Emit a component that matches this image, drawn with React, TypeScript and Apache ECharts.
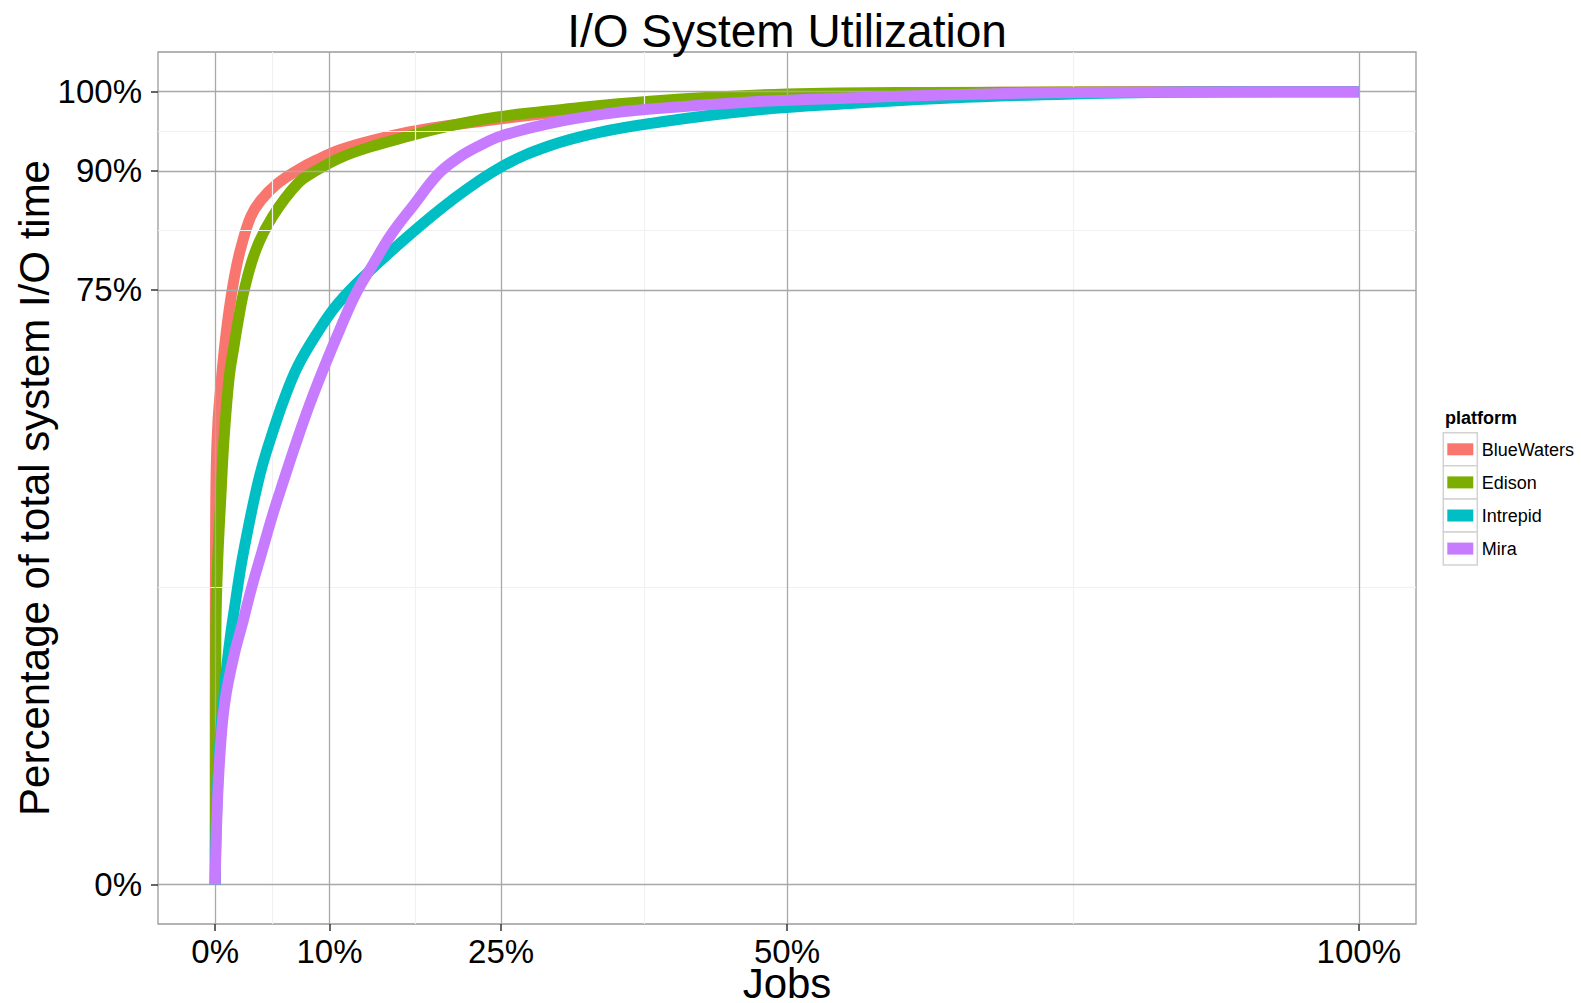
import { useEffect, useRef } from 'react';
import * as echarts from 'echarts';

const platforms = ['BlueWaters', 'Edison', 'Intrepid', 'Mira'];
const colors = ['#F8766D', '#7CAE00', '#00BFC4', '#C77CFF'];
const xTicks = [0, 10, 25, 50, 100];
const yTicks = [0, 75, 90, 100];
const xMinor = [5, 17.5, 37.5, 75];
const yMinor = [37.5, 82.5, 95];

// [jobs %, cumulative I/O time %]
const blueWaters = [
  [0, 0], [0.01, 30], [0.04, 45], [0.1, 53], [0.25, 58.5], [0.5, 63], [0.75, 66.8],
  [1.05, 70.6], [1.4, 74.2], [1.8, 77.5], [2.25, 80.3], [3.1, 84.2], [4.0, 86.3],
  [5.45, 88.4], [7.2, 90.1], [8.9, 91.4], [11, 92.7], [13.6, 93.8], [17.7, 95.1],
  [23.5, 96.3], [30, 97.4], [40, 98.6], [50, 99.4], [62, 99.8], [75, 99.95], [100, 100],
];
const edison = [
  [0, 0], [0.03, 10], [0.05, 25], [0.06, 31.7], [0.2, 40.1], [0.5, 49], [0.79, 56.5],
  [1.23, 64], [1.66, 68], [2.0, 71], [2.54, 75], [3.55, 80], [5.0, 84.2], [7.2, 88.4],
  [8.9, 90.1], [11, 91.7], [13.5, 93.0], [16.2, 94.1], [20.6, 95.7], [24.7, 96.8],
  [30, 97.7], [38, 98.8], [50, 99.7], [62, 99.9], [100, 100],
];
const intrepid = [
  [0, 0], [0.1, 8], [0.3, 15], [0.5, 19.5], [0.73, 23.3], [1.0, 27.3], [1.37, 31.7],
  [1.8, 35.9], [2.25, 40.1], [2.8, 44.3], [3.4, 48.5], [4.1, 52.7], [5.0, 56.9],
  [6.0, 61.1], [7.2, 65.3], [8.9, 69.5], [10.7, 73.2], [13.3, 77.1], [16.5, 81.3],
  [20.6, 86.2], [25, 90.5], [29.3, 93.2], [33.7, 94.9], [38.1, 96.0], [46.8, 97.6],
  [55.5, 98.5], [64.3, 99.2], [75, 99.7], [85, 99.95], [100, 100],
];
const mira = [
  [0, 0], [0.06, 4.3], [0.15, 8.5], [0.27, 12.7], [0.44, 16.9], [0.64, 20.5], [0.85, 23],
  [1.1, 25.2], [1.7, 29.2], [2.4, 33], [3.2, 37.5], [4.1, 42], [5.0, 46.5], [6.0, 51],
  [7.1, 55.8], [8.3, 60.7], [9.6, 65.5], [10.9, 70], [12.3, 74.5], [13.8, 78.2],
  [15.4, 82], [17.3, 85.6], [19.5, 89.6], [21.2, 91.6], [23, 93.1], [25, 94.4],
  [29.3, 96.0], [33.7, 97.1], [38.1, 97.8], [46.8, 98.7], [55.5, 99.2], [64.3, 99.6],
  [75, 99.9], [100, 100],
];
const seriesData = [blueWaters, edison, intrepid, mira];

const FONT = "'Liberation Sans', Arial, Helvetica, sans-serif";

export default function App() {
  const ref = useRef<HTMLDivElement>(null);
  useEffect(() => {
    if (!ref.current) return;
    const chart = echarts.init(ref.current, null, { renderer: 'svg' });

    const majorStyle = { color: '#a8a8a8', width: 1.3, type: 'solid' };
    const minorStyle = { color: '#f1f1f1', width: 1.2, type: 'solid' };
    const gridLines = [
      ...xMinor.map((v) => ({ xAxis: v, lineStyle: minorStyle })),
      ...yMinor.map((v) => ({ yAxis: v, lineStyle: minorStyle })),
      ...xTicks.map((v) => ({ xAxis: v, lineStyle: majorStyle })),
      ...yTicks.map((v) => ({ yAxis: v, lineStyle: majorStyle })),
    ];

    const legendTop = 432.7;
    const cellH = 33.1;
    const legendGraphics: any[] = [
      {
        type: 'text', x: 1445, y: 418,
        style: { text: 'platform', fontSize: 18, fontWeight: 'bold', fontFamily: FONT, fill: '#000', align: 'left', verticalAlign: 'middle' },
      },
    ];
    platforms.forEach((p, i) => {
      const top = legendTop + i * cellH;
      legendGraphics.push({
        type: 'rect', shape: { x: 1443.3, y: top, width: 34, height: cellH },
        style: { fill: '#fff', stroke: '#d2d2d2', lineWidth: 1.5 },
      });
      legendGraphics.push({
        type: 'rect', shape: { x: 1447.3, y: top + 10.6, width: 26, height: 12 },
        style: { fill: colors[i] },
      });
      legendGraphics.push({
        type: 'text', x: 1481.7, y: top + 16.8,
        style: { text: p, fontSize: 18, fontFamily: FONT, fill: '#000', align: 'left', verticalAlign: 'middle' },
      });
    });

    const axisCommon = {
      type: 'value',
      min: -5,
      max: 105,
      interval: 2.5,
      axisLine: { show: false, onZero: false },
      splitLine: { show: false },
      minorSplitLine: { show: false },
    };

    chart.setOption({
      animation: false,
      backgroundColor: '#ffffff',
      grid: {
        left: 158, top: 52, width: 1258, height: 872,
        show: true, backgroundColor: '#ffffff', borderColor: '#9a9a9a', borderWidth: 1.3,
        containLabel: false,
      },
      xAxis: {
        ...axisCommon,
        position: 'bottom',
        axisTick: { show: true, length: 7, lineStyle: { color: '#333', width: 1.5 }, customValues: xTicks },
        axisLabel: {
          customValues: xTicks,
          margin: 11,
          fontSize: 33,
          fontFamily: FONT,
          color: '#000',
          formatter: (v: number) => (xTicks.includes(v) ? `${v}%` : ''),
        },
      },
      yAxis: {
        ...axisCommon,
        position: 'left',
        axisTick: { show: true, length: 7, lineStyle: { color: '#333', width: 1.5 }, customValues: yTicks },
        axisLabel: {
          customValues: yTicks,
          margin: 16,
          fontSize: 33,
          fontFamily: FONT,
          color: '#000',
          formatter: (v: number) => (yTicks.includes(v) ? `${v}%` : ''),
        },
      },
      series: [
        {
          type: 'line',
          name: 'grid',
          data: [],
          z: 1,
          silent: true,
          markLine: {
            silent: true,
            symbol: ['none', 'none'],
            label: { show: false },
            emphasis: { disabled: true },
            data: gridLines,
          },
        },
        ...platforms.map((p, i) => ({
          type: 'line',
          name: p,
          data: seriesData[i],
          showSymbol: false,
          smooth: 0.4,
          z: 3 + i,
          lineStyle: { color: colors[i], width: 11, cap: 'butt', join: 'round' },
          itemStyle: { color: colors[i] },
          emphasis: { disabled: true },
        })),
      ],
      graphic: [
        {
          type: 'text', x: 787, y: 30.5,
          style: { text: 'I/O System Utilization', fontSize: 46, lineHeight: 46, fontFamily: FONT, fill: '#000', align: 'center', verticalAlign: 'middle' },
        },
        {
          type: 'text', x: 787, y: 983,
          style: { text: 'Jobs', fontSize: 42, lineHeight: 34, fontFamily: FONT, fill: '#000', align: 'center', verticalAlign: 'middle' },
        },
        {
          type: 'text', x: 34, y: 488, rotation: Math.PI / 2,
          style: { text: 'Percentage of total system I/O time', fontSize: 42, fontFamily: FONT, fill: '#000', align: 'center', verticalAlign: 'middle' },
        },
        ...legendGraphics,
      ],
    });
    return () => chart.dispose();
  }, []);
  return <div ref={ref} style={{ position: 'absolute', left: 0, top: 0, width: 1581, height: 1003 }} />;
}
